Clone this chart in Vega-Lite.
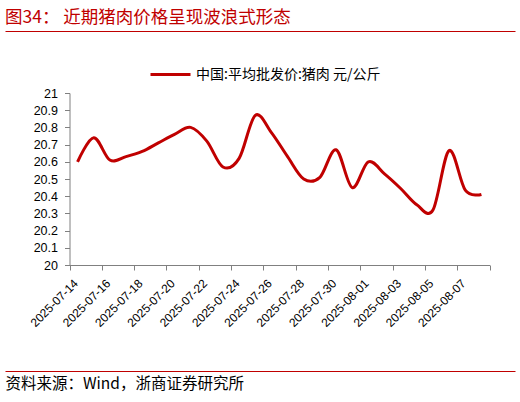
{
  "$schema": "https://vega.github.io/schema/vega-lite/v6.json",
  "width": 510,
  "height": 340,
  "autosize": "none",
  "padding": {"left": 5, "top": 31, "right": 5, "bottom": 31},
  "background": "white",
  "title": {
    "text": "图34： 近期猪肉价格呈现波浪式形态",
    "anchor": "start",
    "frame": "group",
    "font": "Noto Sans CJK SC",
    "fontSize": 17.5,
    "fontWeight": "normal",
    "color": "#C00000",
    "offset": 5
  },
  "data": {
    "values": [
      {"date": "2025-07-14", "price": 20.60, "series": "中国:平均批发价:猪肉 元/公斤"},
      {"date": "2025-07-15", "price": 20.74, "series": "中国:平均批发价:猪肉 元/公斤"},
      {"date": "2025-07-16", "price": 20.61, "series": "中国:平均批发价:猪肉 元/公斤"},
      {"date": "2025-07-17", "price": 20.63, "series": "中国:平均批发价:猪肉 元/公斤"},
      {"date": "2025-07-18", "price": 20.66, "series": "中国:平均批发价:猪肉 元/公斤"},
      {"date": "2025-07-19", "price": 20.71, "series": "中国:平均批发价:猪肉 元/公斤"},
      {"date": "2025-07-20", "price": 20.76, "series": "中国:平均批发价:猪肉 元/公斤"},
      {"date": "2025-07-21", "price": 20.80, "series": "中国:平均批发价:猪肉 元/公斤"},
      {"date": "2025-07-22", "price": 20.72, "series": "中国:平均批发价:猪肉 元/公斤"},
      {"date": "2025-07-23", "price": 20.57, "series": "中国:平均批发价:猪肉 元/公斤"},
      {"date": "2025-07-24", "price": 20.62, "series": "中国:平均批发价:猪肉 元/公斤"},
      {"date": "2025-07-25", "price": 20.87, "series": "中国:平均批发价:猪肉 元/公斤"},
      {"date": "2025-07-26", "price": 20.77, "series": "中国:平均批发价:猪肉 元/公斤"},
      {"date": "2025-07-27", "price": 20.63, "series": "中国:平均批发价:猪肉 元/公斤"},
      {"date": "2025-07-28", "price": 20.50, "series": "中国:平均批发价:猪肉 元/公斤"},
      {"date": "2025-07-29", "price": 20.51, "series": "中国:平均批发价:猪肉 元/公斤"},
      {"date": "2025-07-30", "price": 20.67, "series": "中国:平均批发价:猪肉 元/公斤"},
      {"date": "2025-07-31", "price": 20.45, "series": "中国:平均批发价:猪肉 元/公斤"},
      {"date": "2025-08-01", "price": 20.60, "series": "中国:平均批发价:猪肉 元/公斤"},
      {"date": "2025-08-02", "price": 20.53, "series": "中国:平均批发价:猪肉 元/公斤"},
      {"date": "2025-08-03", "price": 20.445, "series": "中国:平均批发价:猪肉 元/公斤"},
      {"date": "2025-08-04", "price": 20.35, "series": "中国:平均批发价:猪肉 元/公斤"},
      {"date": "2025-08-05", "price": 20.32, "series": "中国:平均批发价:猪肉 元/公斤"},
      {"date": "2025-08-06", "price": 20.665, "series": "中国:平均批发价:猪肉 元/公斤"},
      {"date": "2025-08-07", "price": 20.435, "series": "中国:平均批发价:猪肉 元/公斤"},
      {"date": "2025-08-08", "price": 20.41, "series": "中国:平均批发价:猪肉 元/公斤"}
    ]
  },
  "mark": {"type": "line", "interpolate": "cardinal", "strokeWidth": 3},
  "encoding": {
    "x": {
      "field": "date",
      "timeUnit": "utcyearmonthdate",
      "type": "temporal",
      "bandPosition": 0.5,
      "scale": {
        "type": "utc",
        "domain": [
          {"year": 2025, "month": 7, "date": 14, "utc": true},
          {"year": 2025, "month": 8, "date": 9, "utc": true}
        ],
        "range": [64.5, 484.5]
      },
      "axis": {
        "values": [
          {"year": 2025, "month": 7, "date": 14, "utc": true},
          {"year": 2025, "month": 7, "date": 16, "utc": true},
          {"year": 2025, "month": 7, "date": 18, "utc": true},
          {"year": 2025, "month": 7, "date": 20, "utc": true},
          {"year": 2025, "month": 7, "date": 22, "utc": true},
          {"year": 2025, "month": 7, "date": 24, "utc": true},
          {"year": 2025, "month": 7, "date": 26, "utc": true},
          {"year": 2025, "month": 7, "date": 28, "utc": true},
          {"year": 2025, "month": 7, "date": 30, "utc": true},
          {"year": 2025, "month": 8, "date": 1, "utc": true},
          {"year": 2025, "month": 8, "date": 3, "utc": true},
          {"year": 2025, "month": 8, "date": 5, "utc": true},
          {"year": 2025, "month": 8, "date": 7, "utc": true},
          {"year": 2025, "month": 8, "date": 9, "utc": true}
        ],
        "labelExpr": "datum.value > utc(2025, 7, 8) ? '' : utcFormat(datum.value, '%Y-%m-%d')",
        "labelAngle": -45,
        "labelAlign": "right",
        "labelBaseline": "middle",
        "labelFont": "Liberation Sans",
        "labelFontSize": 12,
        "labelColor": "black",
        "labelPadding": 11,
        "labelOffset": 6,
        "labelOverlap": false,
        "labelFlush": false,
        "tickSize": 5,
        "tickColor": "#808080",
        "domainColor": "#808080",
        "grid": false,
        "offset": -106,
        "title": "资料来源：Wind，浙商证券研究所",
        "titleX": 0,
        "titleY": 118,
        "titleAlign": "left",
        "titleBaseline": "middle",
        "titleFont": "Noto Sans CJK SC",
        "titleFontSize": 15.5,
        "titleFontWeight": "normal",
        "titleColor": "black"
      }
    },
    "y": {
      "field": "price",
      "type": "quantitative",
      "scale": {"domain": [20, 21], "range": [234, 62], "zero": false, "nice": false},
      "axis": {
        "values": [20, 20.1, 20.2, 20.3, 20.4, 20.5, 20.6, 20.7, 20.8, 20.9, 21],
        "format": ".1~f",
        "labelFont": "Liberation Sans",
        "labelFontSize": 12.5,
        "labelColor": "black",
        "labelPadding": 7,
        "labelOverlap": false,
        "labelFlush": false,
        "tickSize": 5,
        "tickColor": "#808080",
        "domainColor": "#808080",
        "grid": false,
        "offset": -64.5,
        "title": null
      }
    },
    "color": {
      "field": "series",
      "type": "nominal",
      "scale": {"range": ["#C00000"]},
      "legend": {
        "orient": "none",
        "legendX": 144,
        "legendY": 22,
        "title": null,
        "symbolType": "stroke",
        "symbolSize": 1600,
        "symbolStrokeWidth": 3,
        "labelFont": "Noto Sans CJK SC",
        "labelFontSize": 14,
        "labelColor": "black",
        "labelOffset": 4,
        "labelLimit": 400
      }
    }
  },
  "config": {
    "view": {"stroke": "#C00000", "strokeWidth": 1, "strokeDash": [510, 340]}
  }
}
